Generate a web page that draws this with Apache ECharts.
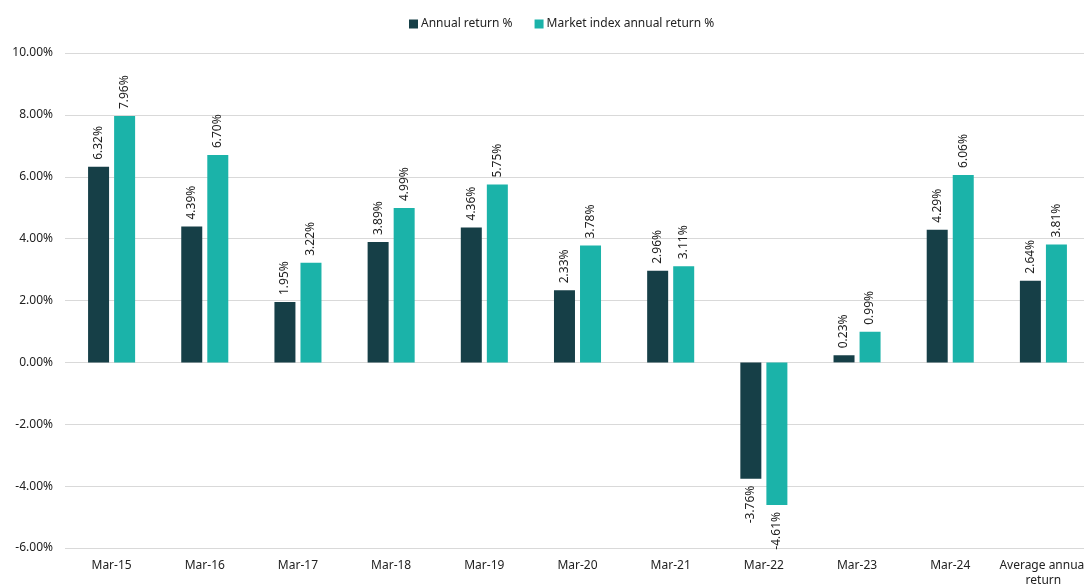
<!DOCTYPE html>
<html>
<head>
<meta charset="utf-8">
<script src="https://cdn.jsdelivr.net/npm/echarts@6/dist/echarts.min.js"></script>
<style>
  html, body { margin: 0; padding: 0; background: #fff; }
  #chart { width: 1084px; height: 585px; }
</style>
</head>
<body>
<div id="chart"></div>
<script>
const categories = ["Mar-15", "Mar-16", "Mar-17", "Mar-18", "Mar-19", "Mar-20", "Mar-21", "Mar-22", "Mar-23", "Mar-24", "Average annual\nreturn"];
const annualReturn = [6.32, 4.39, 1.95, 3.89, 4.36, 2.33, 2.96, -3.76, 0.23, 4.29, 2.64];
const marketReturn = [7.96, 6.70, 3.22, 4.99, 5.75, 3.78, 3.11, -4.61, 0.99, 6.06, 3.81];

const font = "'Noto Sans', sans-serif";

// labels sit above positive bars and below negative ones
function withLabels(values) {
  return values.map(v => ({
    value: v,
    label: v < 0
      ? { position: "bottom", align: "right" }
      : { position: "top", align: "left" }
  }));
}

const chart = echarts.init(document.getElementById("chart"));
const labelStyle = {
  show: true,
  rotate: 90,
  verticalAlign: "middle",
  distance: 7,
  color: "#222",
  fontSize: 12,
  fontFamily: font,
  formatter: p => p.value.toFixed(2) + "%"
};

const option = {
  animation: false,
  textStyle: { fontFamily: font },
  legend: {
    top: 13,
    left: 404,
    itemWidth: 9,
    itemHeight: 9,
    itemGap: 22,
    icon: "rect",
    textStyle: { fontSize: 12, color: "#222", fontFamily: font, padding: [0, 0, 0, -2] },
    data: ["Annual return %", "Market index annual return %"]
  },
  // the source chart is clipped on the right, so the grid runs past the edge
  grid: { left: 65, right: -6, top: 53, bottom: 37, outerBoundsMode: "none", containLabel: false },
  xAxis: {
    type: "category",
    data: categories,
    position: "bottom",
    axisLine: { show: false },
    axisTick: { show: false },
    axisLabel: { color: "#222", fontSize: 12, margin: 10, fontFamily: font, interval: 0, lineHeight: 15 }
  },
  yAxis: {
    type: "value",
    min: -6,
    max: 10,
    interval: 2,
    axisLine: { show: false },
    axisTick: { show: false },
    axisLabel: { color: "#222", fontSize: 12, margin: 12, fontFamily: font, formatter: v => v.toFixed(2) + "%" },
    splitLine: { lineStyle: { color: "#d9d9d9", width: 1 } }
  },
  series: [
    {
      name: "Annual return %",
      type: "bar",
      data: withLabels(annualReturn),
      barWidth: 21,
      barGap: "24%",
      itemStyle: { color: "#163f47" },
      label: labelStyle
    },
    {
      name: "Market index annual return %",
      type: "bar",
      data: withLabels(marketReturn),
      barWidth: 21,
      itemStyle: { color: "#1bb3a9" },
      label: labelStyle
    }
  ]
};
chart.setOption(option);
</script>
</body>
</html>
